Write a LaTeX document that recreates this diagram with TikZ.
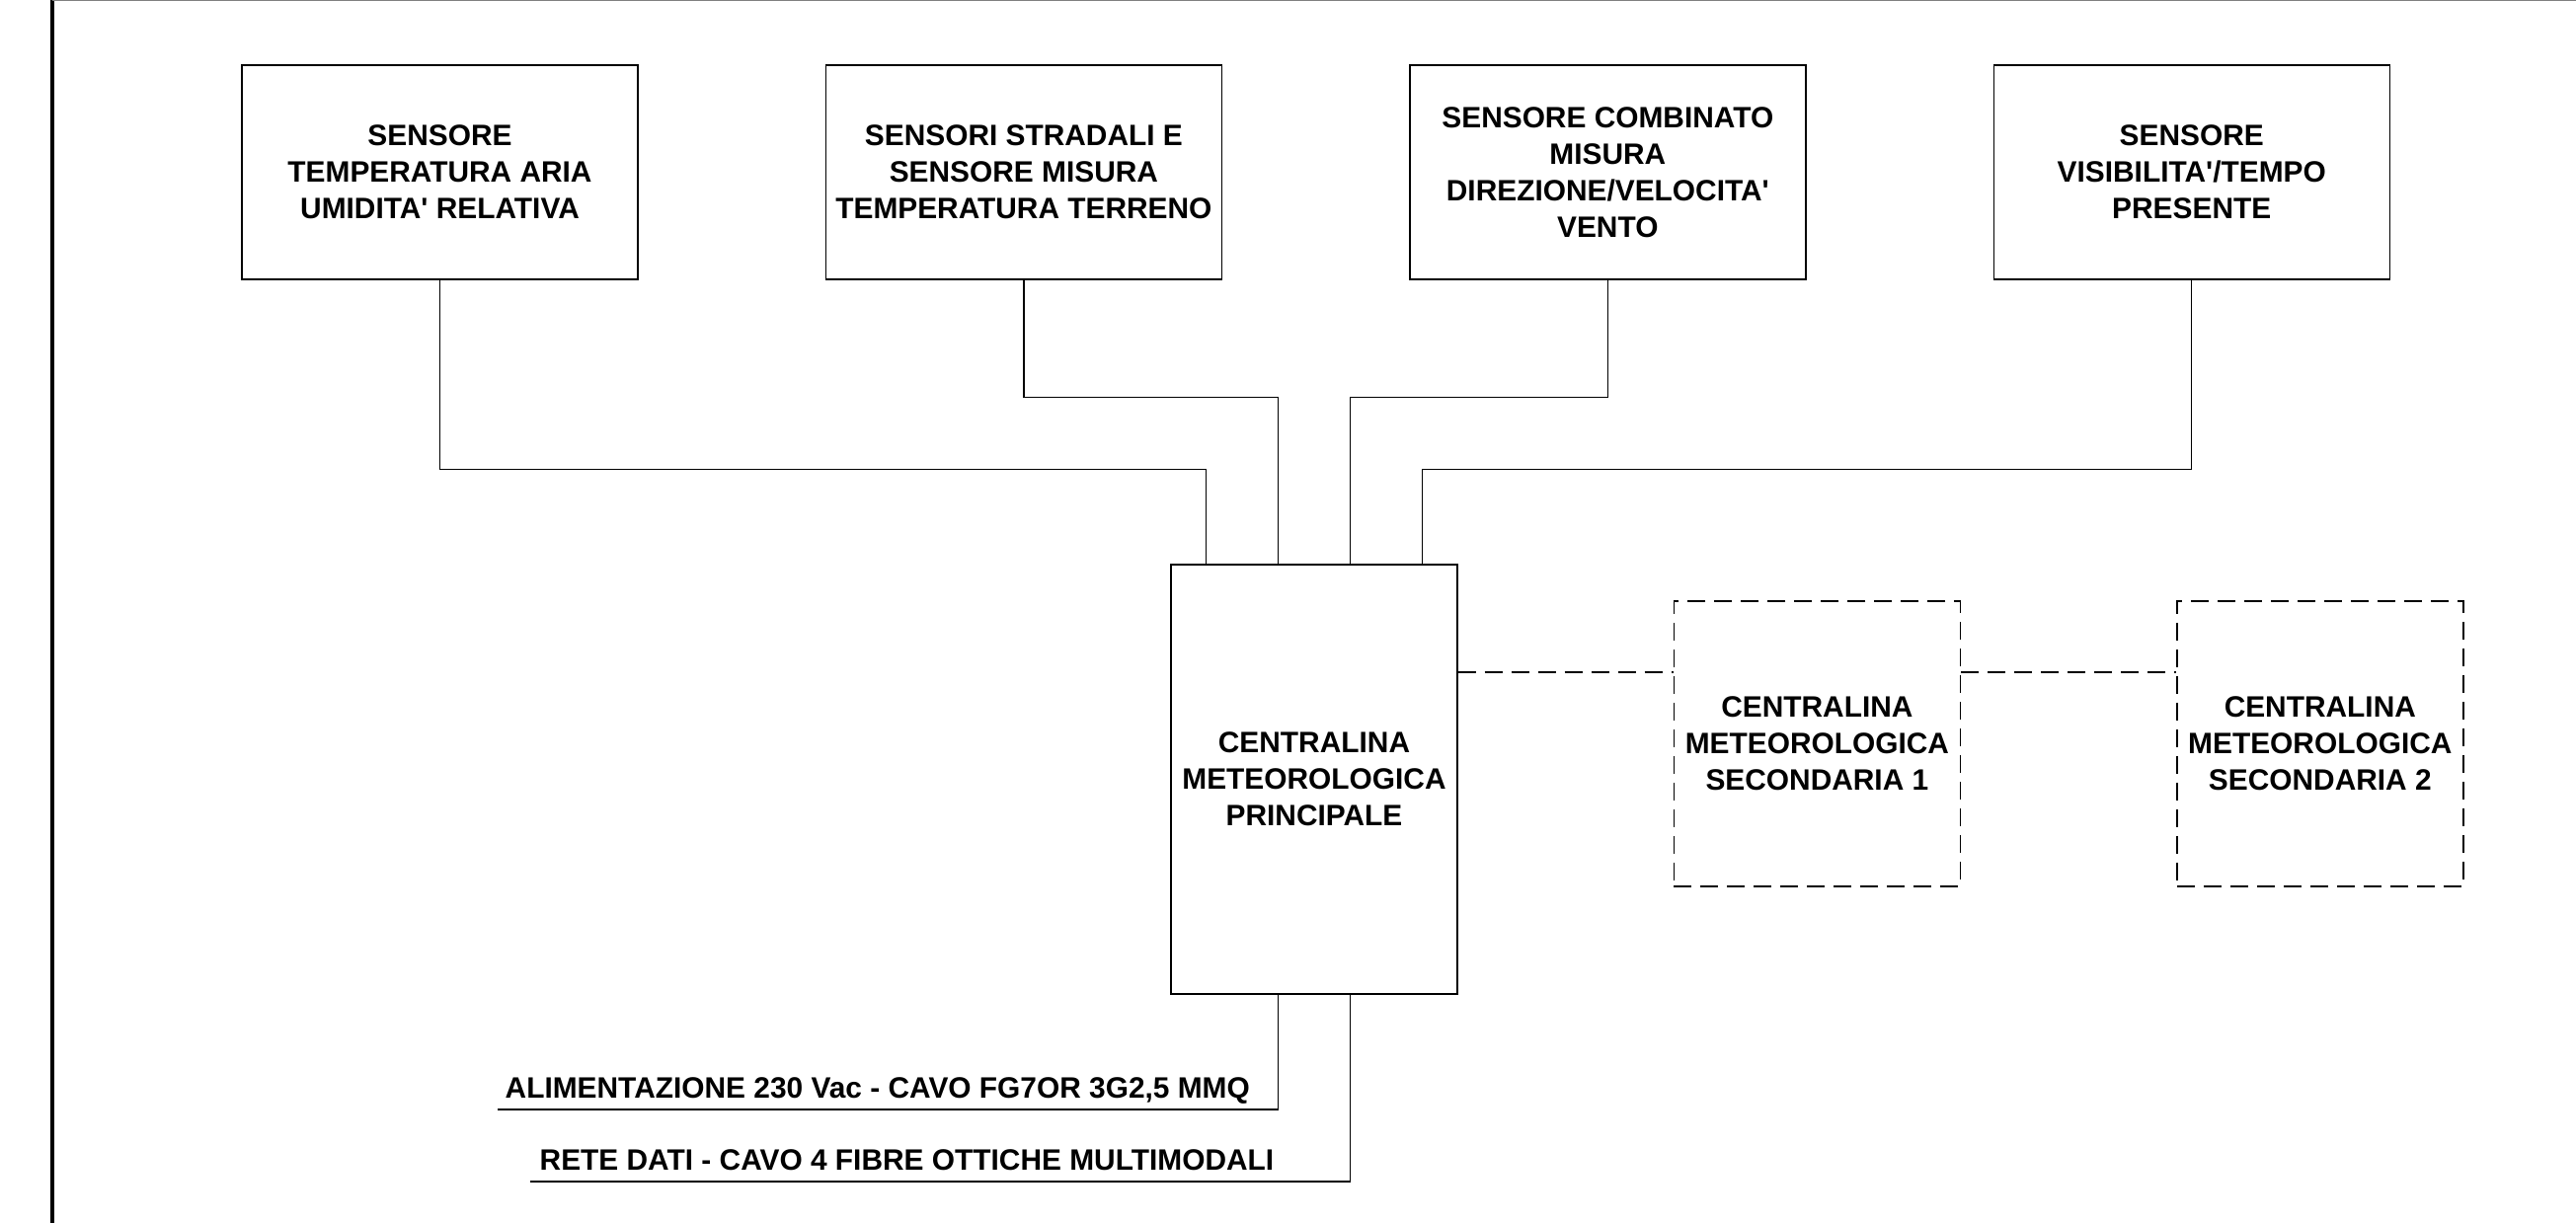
\documentclass[tikz,border=0pt]{standalone}
\usepackage{fontspec}
\setmainfont{Liberation Sans}[Ligatures=TeXOff]
\usetikzlibrary{positioning,calc}

\begin{document}
\begin{tikzpicture}[
      node distance=1.89cm,
      font=\bfseries\fontsize{8.5}{10.5}\selectfont,
      sensor/.style={rectangle, draw, line width=0.4pt, align=center, minimum width=4.01cm, minimum height=2.17cm, inner sep=0pt},
      hub/.style={rectangle, draw, line width=0.4pt, align=center, minimum width=2.90cm, minimum height=4.35cm, inner sep=0pt},
      remote/.style={rectangle, draw, line width=0.4pt, dash pattern=on 0.18cm off 0.09cm, align=center, minimum width=2.90cm, minimum height=2.89cm, inner sep=0pt},
      wire/.style={line width=0.4pt},
      bus/.style={line width=0.4pt, dash pattern=on 0.18cm off 0.09cm},
      cable/.style={inner xsep=0.07cm, inner ysep=0.11cm, text depth=0pt, anchor=south west}
    ]

    % ============ FRAME ============
    \useasboundingbox (0,0) rectangle (26.09,12.39);
    \draw[line width=1.1pt] (0.53,0) -- (0.53,12.39);
    \draw[gray, line width=0.45pt] (0.53,12.385) -- (26.09,12.385);

    % ============ SENSORS ============
    \node[sensor] (temp) at (4.455,10.645) {SENSORE\\TEMPERATURA ARIA\\UMIDITA' RELATIVA};
    \node[sensor, right=of temp] (road) {SENSORI STRADALI E\\SENSORE MISURA\\TEMPERATURA TERRENO};
    \node[sensor, right=of road] (wind) {SENSORE COMBINATO\\MISURA\\DIREZIONE/VELOCITA'\\VENTO};
    \node[sensor, right=of wind] (vis) {SENSORE\\VISIBILITA'/TEMPO\\PRESENTE};

    % ============ STATIONS ============
    \node[hub] (main) at (13.31,4.495) {CENTRALINA\\METEOROLOGICA\\PRINCIPALE};
    \node[remote, right=2.18cm of main, yshift=0.36cm] (sec1) {CENTRALINA\\METEOROLOGICA\\SECONDARIA 1};
    \node[remote, right=2.18cm of sec1] (sec2) {CENTRALINA\\METEOROLOGICA\\SECONDARIA 2};

    % Attachment points on the main station
    \coordinate (in1) at ($(main.north west)!0.125!(main.north east)$);
    \coordinate (in2) at ($(main.north west)!0.375!(main.north east)$);
    \coordinate (in3) at ($(main.north west)!0.625!(main.north east)$);
    \coordinate (in4) at ($(main.north west)!0.875!(main.north east)$);
    \coordinate (out1) at ($(main.south west)!0.375!(main.south east)$);
    \coordinate (out2) at ($(main.south west)!0.625!(main.south east)$);
    \coordinate (link) at ($(sec1.north west)!0.25!(sec1.south west)$);

    % Sensor wiring
    \draw[wire] (temp.south) -- ++(0,-1.92) -| (in1);
    \draw[wire] (road.south) -- ++(0,-1.19) -| (in2);
    \draw[wire] (wind.south) -- ++(0,-1.19) -| (in3);
    \draw[wire] (vis.south) -- ++(0,-1.92) -| (in4);

    % Links to secondary stations
    \draw[bus] (main.east |- link) -- (link);
    \draw[bus] (sec1.east |- link) -- (sec2.west |- link);

    % ============ CABLES ============
    \node[cable] (power) at (5.04,1.15) {ALIMENTAZIONE 230 Vac - CAVO FG7OR 3G2,5 MMQ};
    \node[cable, inner xsep=0.09cm] (data) at (5.37,0.42) {RETE DATI - CAVO 4 FIBRE OTTICHE MULTIMODALI};

    \draw[wire] (out1) |- (power.south west);
    \draw[wire] (out2) |- (data.south west);

  \end{tikzpicture}
\end{document}
